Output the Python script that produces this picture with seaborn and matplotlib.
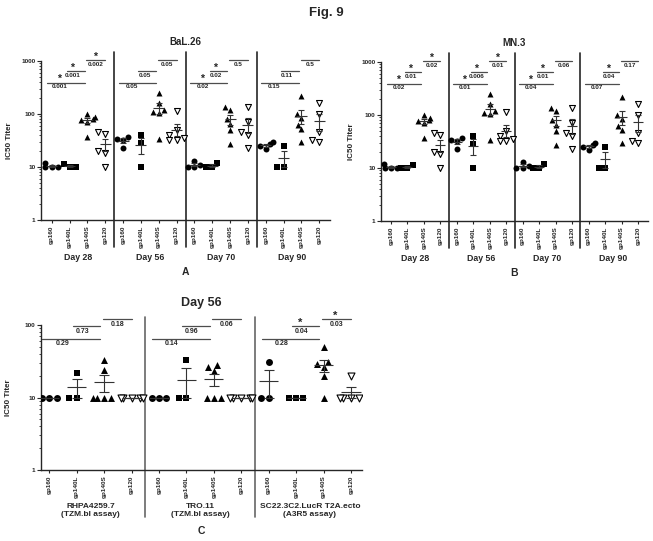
import numpy as np
import pandas as pd
import matplotlib
matplotlib.use("Agg")
import matplotlib.pyplot as plt
import matplotlib.transforms as mtrans
from matplotlib.ticker import NullFormatter
import seaborn as sns

antigens = ["gp160", "gp140L", "gp140S", "gp120"]
markers = ["o", "s", "^", "v"]

days = ["Day 28", "Day 56", "Day 70", "Day 90"]

# IC50 titers per animal, one list per antigen (BaL.26 and MN.3 panels look the same)
day28 = [[12, 10, 10, 10], [11.5, 10, 10], [100, 88, 82, 77, 71, 37], [45, 42, 20, 18, 10]]
day56 = [[37, 34, 32, 23], [41, 28, 10], [250, 160, 120, 110, 105, 34], [115, 50, 40, 35, 33, 32]]
day70 = [[13, 11, 10, 10], [12, 10, 10], [137, 117, 81, 65, 49, 27], [137, 70, 45, 40, 23]]
day90 = [[30, 27, 25, 22], [25, 10, 10], [220, 100, 83, 63, 51, 30], [160, 98, 46, 32, 30]]

# p values: gp160 vs gp140S, gp140L vs gp140S, gp140S vs gp120
bal26_p = [["0.001", "0.001", "0.002"], ["0.05", "0.05", "0.05"],
           ["0.02", "0.02", "0.5"], ["0.15", "0.11", "0.5"]]
bal26_star = [[1, 1, 1], [0, 0, 0], [1, 1, 0], [0, 0, 0]]
mn3_p = [["0.02", "0.01", "0.02"], ["0.01", "0.006", "0.01"],
         ["0.04", "0.01", "0.06"], ["0.07", "0.04", "0.17"]]
mn3_star = [[1, 1, 1], [1, 1, 1], [1, 1, 0], [0, 1, 0]]

viruses = ["RHPA4259.7\n(TZM.bl assay)", "TRO.11\n(TZM.bl assay)",
           "SC22.3C2.LucR T2A.ecto\n(A3R5 assay)"]
rhpa = [[10, 10, 10], [22, 10, 10], [33, 24, 10, 10, 10, 10], [10, 10, 10, 10, 10]]
tro11 = [[10, 10, 10], [33, 10, 10], [28, 26, 23, 10, 10, 10], [10, 10, 10, 10, 10]]
sc22 = [[31, 10, 10], [10, 10, 10], [50, 31, 29, 26, 20, 10], [20, 10, 10, 10, 10]]
c_p = [["0.29", "0.73", "0.18"], ["0.14", "0.96", "0.06"], ["0.28", "0.04", "0.03"]]
c_star = [[0, 0, 0], [0, 0, 0], [0, 1, 1]]


def long_table(groups):
    rows = []
    for g, group in enumerate(groups):
        for a, vals in enumerate(group):
            for v in vals:
                rows.append({"slot": g * 4 + a, "antigen": antigens[a], "titer": v})
    return pd.DataFrame(rows)


def draw_panel(ax, groups, glabels, pvals, stars, bar_y, xlim, top,
               ms, hw, cap, fs_tick, fs_p, fs_group, sep_lim, sep_color, glab_y):
    df = long_table(groups)
    n = len(groups) * 4
    ax.set_yscale("log")
    for a, name in enumerate(antigens):
        sub = df[df.antigen == name]
        if markers[a] == "v":
            sns.swarmplot(data=sub, x="slot", y="titer", order=list(range(n)), marker="v",
                          size=ms, color="white", edgecolor="black", linewidth=0.8, ax=ax, zorder=4)
        else:
            sns.swarmplot(data=sub, x="slot", y="titer", order=list(range(n)), marker=markers[a],
                          size=ms, color="black", linewidth=0, ax=ax, zorder=4)

    # mean +/- SEM
    st = df.groupby("slot")["titer"].agg(["mean", "sem"])
    ax.hlines(st["mean"], st.index - hw, st.index + hw, color="0.2", lw=0.8, zorder=5)
    ax.errorbar(st.index, st["mean"], yerr=st["sem"].fillna(0), fmt="none", ecolor="0.2",
                elinewidth=0.8, capsize=cap, capthick=0.8, zorder=5)

    # significance bars
    spans = [(-0.25, 1.85), (0.85, 1.85), (1.95, 3.0)]
    text_x = [0.47, 1.2, 2.48]
    for g in range(len(groups)):
        base = g * 4
        for lev in range(3):
            x0, x1 = spans[lev]
            y = bar_y[lev]
            ax.plot([base + x0, base + x1], [y, y], color="0.3", lw=0.9, clip_on=False)
            ax.annotate(pvals[g][lev], (base + text_x[lev], y), xytext=(0, -1.2),
                        textcoords="offset points", ha="center", va="top",
                        fontsize=fs_p, fontweight="bold", annotation_clip=False)
            if stars[g][lev]:
                ax.annotate("*", (base + text_x[lev] - 0.05, y), xytext=(0, -1.0),
                            textcoords="offset points", ha="center", va="bottom",
                            fontsize=fs_p + 3, fontweight="bold", annotation_clip=False)

    for g in range(1, len(groups)):
        ax.axvline(g * 4 - 0.5, ymin=sep_lim[0], ymax=sep_lim[1], color=sep_color,
                   lw=1.2, clip_on=False)

    trans = mtrans.blended_transform_factory(ax.transData, ax.transAxes)
    for g, lab in enumerate(glabels):
        ax.text(g * 4 + 1.5, glab_y, lab, transform=trans, ha="center", va="top",
                fontsize=fs_group, fontweight="bold", linespacing=1.1)

    ax.set_xlim(xlim)
    ax.set_ylim(1, top)
    ax.set_xticks(range(n))
    ax.set_xticklabels(antigens * len(groups), rotation=90, fontsize=fs_tick, fontweight="bold")
    yt = [t for t in [1, 10, 100, 1000] if t <= top]
    ax.set_yticks(yt)
    ax.set_yticklabels([str(t) for t in yt], fontsize=fs_tick, fontweight="bold")
    ax.yaxis.set_minor_formatter(NullFormatter())
    ax.set_xlabel("")
    ax.set_ylabel("IC50 Titer", fontsize=5.8, fontweight="bold")
    ax.yaxis.set_label_coords(-0.097, 0.5)
    ax.tick_params(axis="x", length=2, width=0.8, pad=2)
    ax.tick_params(axis="y", which="major", length=3, width=0.8, pad=1)
    ax.tick_params(axis="y", which="minor", length=1.5, width=0.6)
    for s in ["left", "bottom"]:
        ax.spines[s].set_linewidth(1.0)
    sns.despine(ax=ax)


sns.set_style("ticks")
plt.rcParams["font.family"] = ["Liberation Sans", "DejaVu Sans"]

W, H = 653, 541
fig = plt.figure(figsize=(W / 100, H / 100), dpi=100)

def px_axes(left, top, right, bottom):
    return fig.add_axes([left / W, 1 - bottom / H, (right - left) / W, (bottom - top) / H])

axA = px_axes(41, 61, 330, 220)
axB = px_axes(381, 62, 648, 221)
axC = px_axes(41, 325, 362, 470)

groups_ab = [day28, day56, day70, day90]
for ax, pv, stv, title, letter in [(axA, bal26_p, bal26_star, "BaL.26", "A"),
                                   (axB, mn3_p, mn3_star, "MN.3", "B")]:
    draw_panel(ax, groups_ab, days, pv, stv, bar_y=[392, 645, 1030], xlim=(-0.6, 15.6),
               top=1000, ms=4.3, hw=0.31, cap=2.4, fs_tick=4.6, fs_p=4.6, fs_group=6.3,
               sep_lim=(-0.17, 1.057), sep_color="0.15", glab_y=-0.21)
    ax.text(0.5, 1.12, title, transform=ax.transAxes, ha="center", va="center",
            fontsize=7, fontweight="bold")
    ax.text(0.5, -0.325, letter, transform=ax.transAxes, ha="center", va="center",
            fontsize=7.5, fontweight="bold")

draw_panel(axC, [rhpa, tro11, sc22], viruses, c_p, c_star, bar_y=[65, 97, 120],
           xlim=(-0.3, 11.4), top=100, ms=5.0, hw=0.35, cap=3.6, fs_tick=4.6, fs_p=5,
           fs_group=6, sep_lim=(-0.324, 1.055), sep_color="0.4", glab_y=-0.23)
axC.yaxis.set_label_coords(-0.09, 0.5)
axC.text(0.5, 1.152, "Day 56", transform=axC.transAxes, ha="center", va="center",
         fontsize=9, fontweight="bold")
axC.text(0.5, -0.42, "C", transform=axC.transAxes, ha="center", va="center",
         fontsize=7.5, fontweight="bold")

fig.text(0.5, 1 - 13 / H, "Fig. 9", ha="center", va="center", fontsize=9.5, fontweight="bold")

fig.savefig("out.png", dpi=100)
